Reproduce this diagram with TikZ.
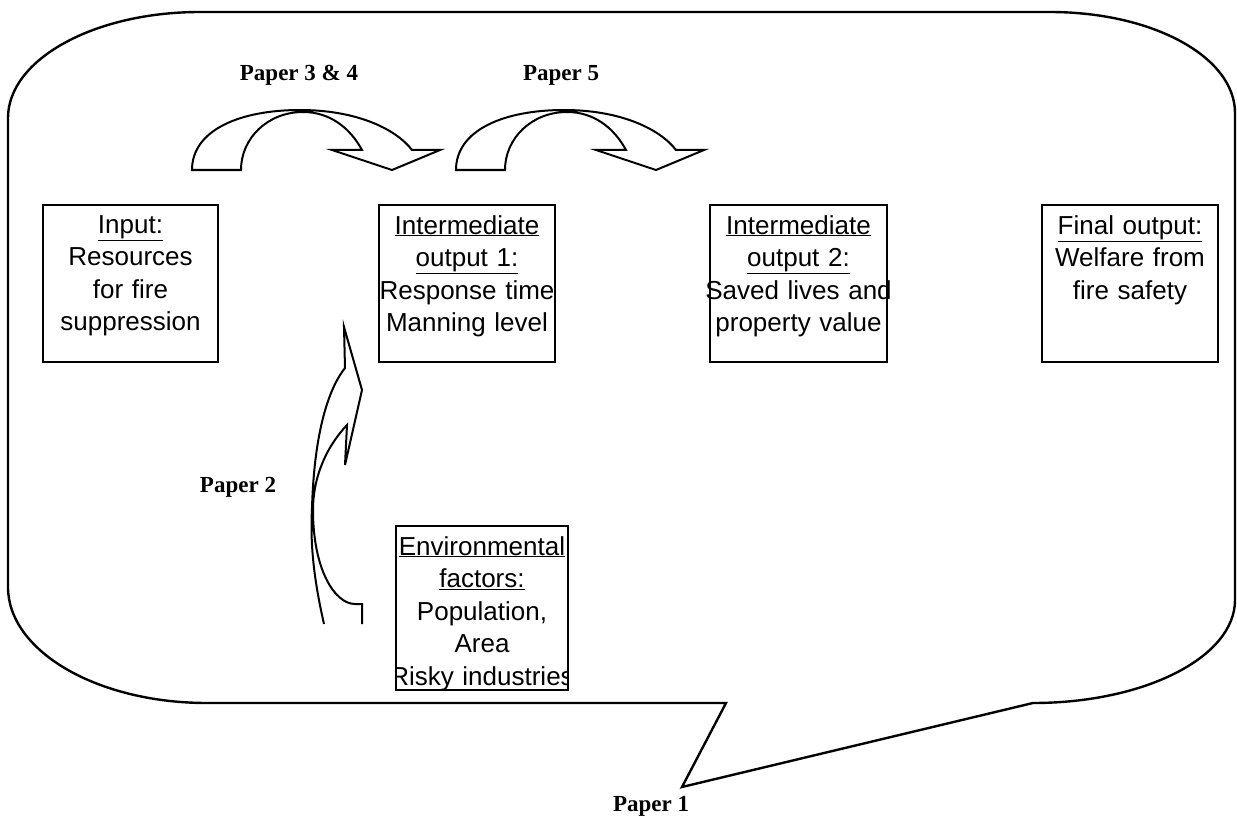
\documentclass[tikz,border=0pt]{standalone}
\usepackage{fontspec}
\setmainfont{Liberation Sans}
\newfontfamily\tnr{Liberation Serif}
\begin{document}
\begin{tikzpicture}[x=1pt,y=-1pt,
  box/.style={draw, line width=2.4pt, rectangle, inner sep=0pt},
  boxtext/.style={anchor=north, inner sep=0pt, text width=200pt, align=center,
    font=\fontsize{26}{32.5}\selectfont},
  paperlabel/.style={inner sep=0pt, font=\tnr\bfseries\fontsize{23}{26}\selectfont},
  outline/.style={draw, line width=2.4pt, line join=miter},
  arrowshape/.style={draw, line width=2pt, line join=miter, fill=white}]
\useasboundingbox (0,0) rectangle (1237,824);

% callout outline
\draw[outline] (8,118) -- (8,587)
  .. controls (8,651) and (97,703) .. (207,703)
  -- (726,703) -- (682,787) -- (1033,703)
  .. controls (1145,703) and (1235,657) .. (1235,600)
  -- (1235,113)
  .. controls (1235,57) and (1153,12) .. (1050,12)
  -- (200,12)
  .. controls (94,12) and (8,59.5) .. (8,118) -- cycle;

% top curved arrows
\draw[arrowshape] (192,170) .. controls (192,130) and (240,110) .. (300,110)
  .. controls (355,110) and (395,128) .. (412,150)
  -- (440,150) -- (392,170) -- (332,150) -- (362,150)
  .. controls (350,128) and (330,112) .. (303,112)
  .. controls (268,112) and (241,138) .. (241,170) -- cycle;
\begin{scope}[xshift=264pt]
\draw[arrowshape] (192,170) .. controls (192,130) and (240,110) .. (300,110)
  .. controls (355,110) and (395,128) .. (412,150)
  -- (440,150) -- (392,170) -- (332,150) -- (362,150)
  .. controls (350,128) and (330,112) .. (303,112)
  .. controls (268,112) and (241,138) .. (241,170) -- cycle;
\end{scope}

% left curved arrow (Paper 2)
\draw[arrowshape, fill=none] (324,624) .. controls (314,580) and (310,545) .. (312,508)
  .. controls (314,440) and (326,392) .. (345,368)
  -- (344,327) -- (362,390) -- (345,465) -- (347,425)
  .. controls (328,445) and (313,475) .. (313,510)
  .. controls (313,570) and (335,604) .. (355,604)
  -- (362,604) -- (362,624);

% boxes
\node[box, minimum width=175pt, minimum height=157pt] (inp) at (130.5,283.5) {};
\node[boxtext] (inpT) at (130.5,215) {\underline{Input:}\\Resources\\for fire\\suppression};

\node[box, minimum width=176pt, minimum height=157pt] (im1) at (467,283.5) {};
\node[boxtext] (im1T) at (467,215) {\underline{Intermediate}\\\underline{output 1:}\\Response time\\Manning level};

\node[box, minimum width=177pt, minimum height=157pt] (im2) at (798.5,283.5) {};
\node[boxtext] (im2T) at (798.5,215) {\underline{Intermediate}\\\underline{output 2:}\\Saved lives and\\property value};

\node[box, minimum width=176pt, minimum height=157pt] (fin) at (1130,283.5) {};
\node[boxtext] (finT) at (1130,215) {\underline{Final output:}\\Welfare from\\fire safety};

\begin{scope}
\clip (396,526) rectangle (568,690);
\node[boxtext] (envT) at (482,536) {\underline{Environmental}\\\underline{factors:}\\Population,\\Area\\Risky industries};
\end{scope}
\node[box, minimum width=172pt, minimum height=164pt, fill=none] (env) at (482,608) {};

% labels
\node[paperlabel] (p34) at (299,75) {Paper 3 \& 4};
\node[paperlabel] (p5) at (561,75) {Paper 5};
\node[paperlabel] (p2) at (238,487) {Paper 2};
\node[paperlabel] (p1) at (651,806) {Paper 1};
\end{tikzpicture}
\end{document}
